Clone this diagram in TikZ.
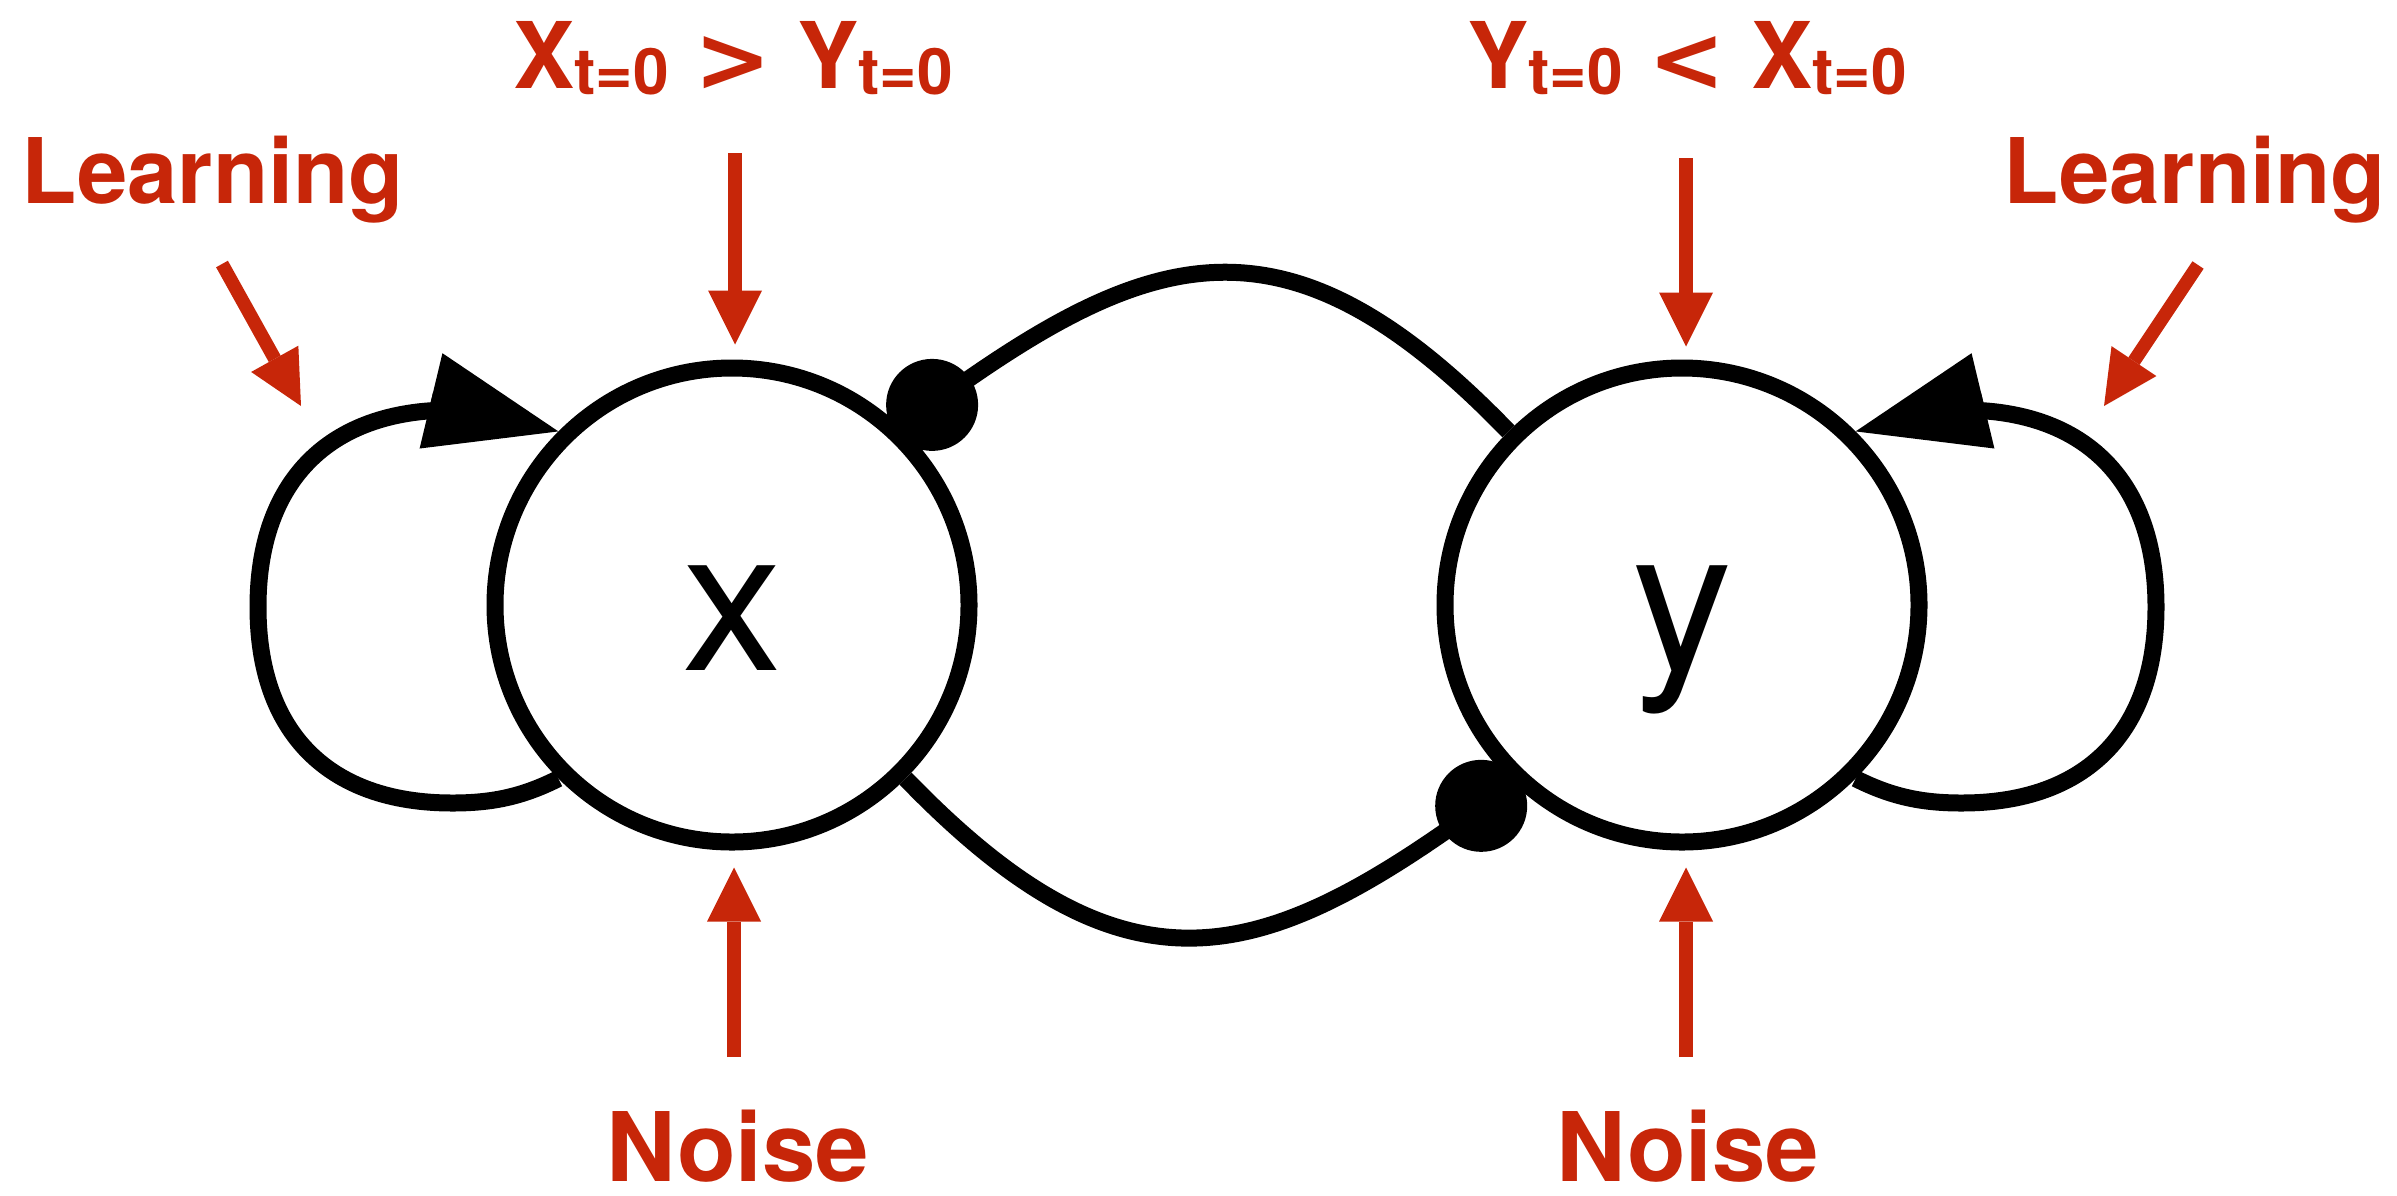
\documentclass[tikz,border=0pt]{standalone}
\usepackage{fontspec}
\setmainfont{TeX Gyre Heros}
\newfontfamily\symfont{DejaVu Sans}
\usetikzlibrary{arrows.meta,calc}
\definecolor{lblred}{RGB}{199,38,9}
\newcommand{\tsub}{\raisebox{-6pt}{\fontsize{64}{64}\selectfont t=0}}
\newcommand{\rel}[1]{\raisebox{-3pt}{\symfont\bfseries #1}}
\begin{document}
\begin{tikzpicture}[x=1pt,y=1pt,
  state/.style={circle,draw=black,line width=17pt,minimum size=474pt,inner sep=0pt,
    font=\fontsize{200}{220}\selectfont,text height=130pt,text depth=0pt},
  dotnode/.style={circle,fill=black,minimum size=92pt,inner sep=0pt},
  redlabel/.style={anchor=base,inner sep=0pt,text=lblred,font=\bfseries\fontsize{#1}{#1}\selectfont},
  redarrow/.style={draw=lblred,line width=13.5pt,-{Triangle[length=54pt,width=54pt,line width=0pt]}},
  loopedge/.style={draw=black,line width=17pt,-{Triangle[length=131pt,width=98pt,line width=0pt]}},
  linkedge/.style={draw=black,line width=17pt}
]
\fill[white] (0,0) rectangle (2397,-1195);
\useasboundingbox (0,0) rectangle (2397,-1195);

% states
\node[state] (x) at (732,-605) {x};
\node[state] (y) at (1682,-605) {y};

% inhibitory dots
\node[dotnode] (dx) at ($(x.center)+(45:283)$) {};
\node[dotnode] (dy) at ($(y.center)+(225:284)$) {};

% links between states
\draw[linkedge] (y.135) .. controls +(134:320) and +(36:270) .. (dx.center);
\draw[linkedge] (x.315) .. controls +(314:320) and +(216:270) .. (dy.center);

% self loops
\draw[loopedge] (x.225) .. controls (520,-798) and (489,-803) .. (452,-803)
  .. controls (328,-803) and (258,-732) .. (258,-607)
  .. controls (258,-482) and (328,-410) .. (452,-410)
  .. controls (485,-410) and (515,-421) .. (x.135);
\draw[loopedge] (y.315) .. controls (1894,-798) and (1925,-803) .. (1962,-803)
  .. controls (2086,-803) and (2156,-732) .. (2156,-607)
  .. controls (2156,-482) and (2086,-410) .. (1962,-410)
  .. controls (1929,-410) and (1899,-421) .. (y.45);

% labels
\node[redlabel=90.5] (learnL) at (213,-203) {Learning};
\node[redlabel=90.5] (learnR) at (2195,-203) {Learning};
\node[redlabel=96] (noiseL) at (738,-1181) {Noise};
\node[redlabel=96] (noiseR) at (1688,-1181) {Noise};
\node[redlabel=92] (condL) at (733,-88) {X\tsub\ \rel{>} Y\tsub};
\node[redlabel=92] (condR) at (1687,-88) {Y\tsub\ \rel{<} X\tsub};

% red arrows
\coordinate (ntl) at (735,-153);
\coordinate (ntr) at (1686,-158);
\coordinate (nbl) at (734,-1057);
\coordinate (nbr) at (1686,-1057);
\coordinate (lat) at (222,-264);
\coordinate (lah) at (301,-406);
\coordinate (rat) at (2198,-265);
\coordinate (rah) at (2104,-406);
\draw[redarrow,shorten >=15pt] (ntl) -- (ntl |- x.north);
\draw[redarrow,shorten >=13pt] (ntr) -- (ntr |- y.north);
\draw[redarrow,shorten >=17pt] (nbl) -- (nbl |- x.south);
\draw[redarrow,shorten >=17pt] (nbr) -- (nbr |- y.south);
\draw[redarrow] (lat) -- (lah);
\draw[redarrow] (rat) -- (rah);
\end{tikzpicture}
\end{document}
